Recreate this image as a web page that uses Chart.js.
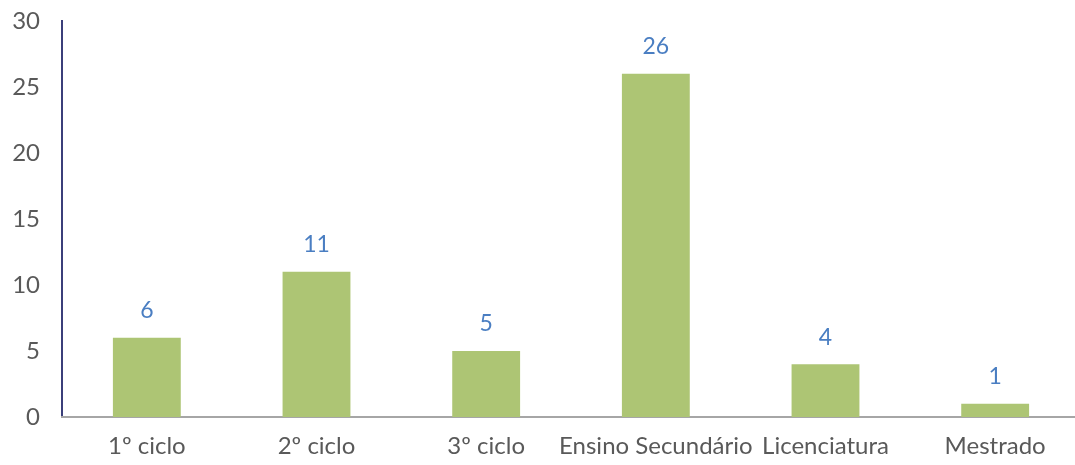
<!DOCTYPE html>
<html>
<head>
<meta charset="utf-8">
<script src="https://cdn.jsdelivr.net/npm/chart.js@4"></script>
<style>
  html, body { margin: 0; padding: 0; background: #fff; overflow: hidden; }
</style>
</head>
<body>
<canvas id="myChart" width="1080" height="465"></canvas>
<script>
// data
const categories = ["1º ciclo", "2º ciclo", "3º ciclo", "Ensino Secundário", "Licenciatura", "Mestrado"];
const values = [6, 11, 5, 26, 4, 1];
const yTicks = [0, 5, 10, 15, 20, 25, 30];

const barColor = "#ADC574";
const labelColor = "#4A7EC2";
const textColor = "#595959";
const fontFamily = "Lato, 'Open Sans', sans-serif";

// value labels above bars
const valueLabels = {
  id: "valueLabels",
  afterDatasetsDraw(chart) {
    const ctx = chart.ctx;
    const meta = chart.getDatasetMeta(0);
    ctx.save();
    ctx.fillStyle = labelColor;
    ctx.font = "23px " + fontFamily;
    ctx.textAlign = "center";
    ctx.textBaseline = "middle";
    meta.data.forEach((bar, i) => {
      ctx.fillText(values[i], bar.x, bar.y - 27);
    });
    ctx.restore();
  },
};

const myChart = new Chart("myChart", {
  type: "bar",
  data: {
    labels: categories,
    datasets: [
      {
        data: values,
        backgroundColor: barColor,
        barPercentage: 0.4,
        categoryPercentage: 1,
      },
    ],
  },
  options: {
    responsive: false,
    animation: false,
    layout: {
      padding: { top: 21, right: 0, bottom: 0, left: 6 },
    },
    scales: {
      y: {
        min: 0,
        max: 30,
        afterBuildTicks(axis) {
          axis.ticks = yTicks.map((v) => ({ value: v }));
        },
        afterFit(axis) {
          axis.width = 56;
          axis.paddingTop = 0;
          axis.paddingBottom = 0;
        },
        grid: { display: false, drawTicks: false },
        border: { color: "#3B3F7A", width: 2 },
        ticks: {
          color: textColor,
          padding: 22,
          font: { family: fontFamily, size: 24 },
        },
      },
      x: {
        afterFit(axis) {
          axis.height = 48;
        },
        grid: { display: false, drawTicks: false },
        border: { color: "#A6A6A6", width: 2 },
        ticks: {
          color: textColor,
          padding: 15,
          maxRotation: 0,
          autoSkip: false,
          font: { family: fontFamily, size: 24 },
        },
      },
    },
    plugins: {
      legend: { display: false },
      tooltip: { enabled: false },
    },
  },
  plugins: [valueLabels],
});
</script>
</body>
</html>
